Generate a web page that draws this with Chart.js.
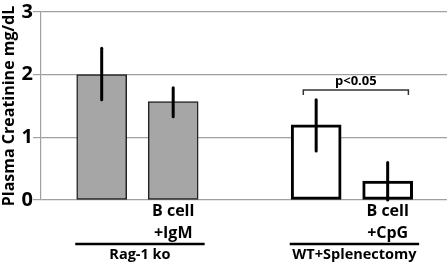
<!DOCTYPE html>
<html>
<head>
<meta charset="utf-8">
<script src="https://cdn.jsdelivr.net/npm/chart.js@4/dist/chart.umd.min.js"></script>
<style>
    html, body { margin: 0; padding: 0; background: #fff; }
    #wrap { width: 448px; height: 267px; }
</style>
</head>
<body>
<div id="wrap"><canvas id="chart" width="448" height="267"></canvas></div>
<script>
const positions = [1, 2, 4, 5];
const values = [2.0, 1.57, 1.2, 0.3];
const errLow = [1.6, 1.33, 0.78, 0];
const errHigh = [2.42, 1.79, 1.6, 0.6];
const tickPositions = [2, 5];
const tickLabels = [["B cell", "+IgM"], ["B cell", "+CpG"]];
const groupNames = ["Rag-1 ko", "WT+Splenectomy"];
const groupMembers = [[0, 1], [2, 3]];
const sigPair = [2, 3];
const sigLabel = "p<0.05";

const FONT = "'Open Sans', sans-serif";

const extrasPlugin = {
    id: "extras",
    afterDatasetsDraw(chart) {
        const ctx = chart.ctx;
        const x = chart.scales.x;
        const y = chart.scales.y;

        // error bars
        ctx.save();
        ctx.strokeStyle = "#000";
        ctx.lineWidth = 3;
        ctx.lineCap = "round";
        positions.forEach((p, i) => {
            const px = x.getPixelForValue(p);
            ctx.beginPath();
            ctx.moveTo(px, y.getPixelForValue(errLow[i]));
            ctx.lineTo(px, y.getPixelForValue(errHigh[i]));
            ctx.stroke();
        });
        ctx.restore();

        // significance bracket
        ctx.save();
        const bx1 = x.getPixelForValue(positions[sigPair[0]] - 0.18);
        const bx2 = x.getPixelForValue(positions[sigPair[1]] + 0.29);
        const by = 90;
        ctx.strokeStyle = "#333";
        ctx.lineWidth = 1.5;
        ctx.beginPath();
        ctx.moveTo(bx1, by + 5);
        ctx.lineTo(bx1, by);
        ctx.lineTo(bx2, by);
        ctx.lineTo(bx2, by + 5);
        ctx.stroke();
        ctx.fillStyle = "#000";
        ctx.font = "bold 13px " + FONT;
        ctx.textAlign = "center";
        ctx.textBaseline = "middle";
        ctx.fillText(sigLabel, (bx1 + bx2) / 2, by - 9);
        ctx.restore();

        // group lines and names
        ctx.save();
        groupNames.forEach((name, g) => {
            const first = groupMembers[g][0];
            const last = groupMembers[g][groupMembers[g].length - 1];
            const gx1 = x.getPixelForValue(positions[first] - 0.37);
            const gx2 = x.getPixelForValue(positions[last] + 0.44);
            ctx.strokeStyle = "#000";
            ctx.lineWidth = 2.5;
            ctx.beginPath();
            ctx.moveTo(gx1, 244);
            ctx.lineTo(gx2, 244);
            ctx.stroke();
            ctx.fillStyle = "#000";
            ctx.font = "bold 14.5px " + FONT;
            ctx.textAlign = "center";
            ctx.textBaseline = "middle";
            ctx.fillText(name, (gx1 + gx2) / 2, 255);
        });
        ctx.restore();
    }
};

new Chart(document.getElementById("chart"), {
    type: "bar",
    data: {
        datasets: [{
            data: positions.map((p, i) => ({ x: p, y: values[i] })),
            backgroundColor: ["#a6a6a6", "#a6a6a6", "#ffffff", "#ffffff"],
            borderColor: ["#222", "#222", "#000", "#000"],
            borderWidth: [1.5, 1.5, 3, 3],
            borderSkipped: false,
            barThickness: 50
        }]
    },
    options: {
        responsive: false,
        animation: false,
        layout: { padding: { top: 0, right: 1, left: 0, bottom: 0 } },
        plugins: {
            legend: { display: false },
            tooltip: { enabled: false }
        },
        scales: {
            x: {
                type: "linear",
                offset: false,
                min: 0.151,
                max: 5.83,
                grid: { display: false, drawTicks: false, offset: false },
                border: { display: false },
                afterBuildTicks: (scale) => {
                    scale.ticks = tickPositions.map(v => ({ value: v }));
                },
                afterFit: (scale) => { scale.height = 67; },
                ticks: {
                    autoSkip: false,
                    maxRotation: 0,
                    padding: 0,
                    color: "#000",
                    font: { family: FONT, size: 16, weight: "bold", lineHeight: 1.38 },
                    callback: (v) => {
                        const i = tickPositions.indexOf(v);
                        return i >= 0 ? tickLabels[i] : "";
                    }
                }
            },
            y: {
                min: 0,
                max: 3,
                afterFit: (scale) => { scale.width = 41; },
                grid: { color: "#a0a0a0", lineWidth: 1.2, tickLength: 8 },
                border: { color: "#a0a0a0", width: 1.2 },
                ticks: {
                    stepSize: 1,
                    padding: 0,
                    color: "#000",
                    font: { family: FONT, size: 20, weight: "bold" }
                },
                title: {
                    display: true,
                    text: "Plasma Creatinine mg/dL",
                    color: "#000",
                    padding: 0,
                    font: { family: FONT, size: 16, weight: "bold" }
                }
            }
        }
    },
    plugins: [extrasPlugin]
});
</script>
</body>
</html>
